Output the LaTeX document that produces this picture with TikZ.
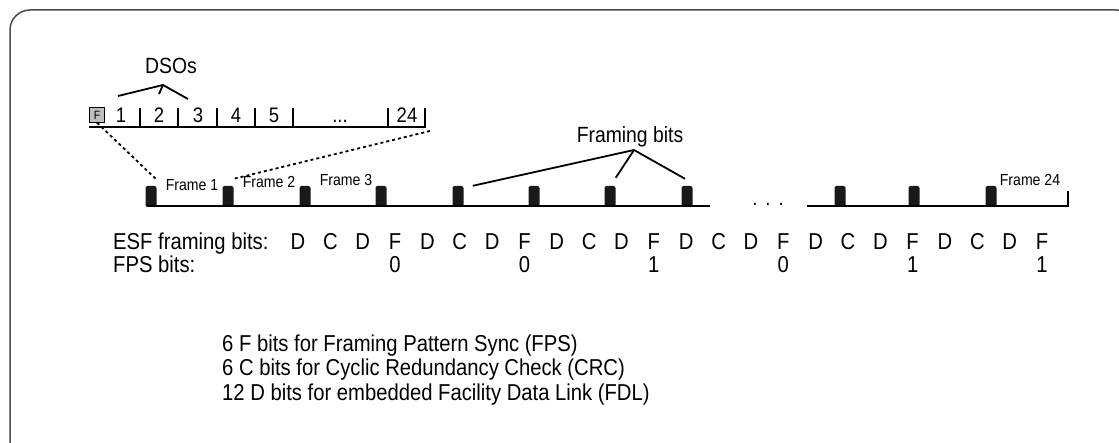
\documentclass[tikz,border=0pt]{standalone}
\usepackage{fontspec}
\setmainfont{Liberation Sans}[FakeStretch=0.88]
\usetikzlibrary{positioning}

\begin{document}
\begin{tikzpicture}[x=1pt,y=-1pt]
    \useasboundingbox (0,0) rectangle (1119,443);
    \begin{scope}
        \clip (0,0) rectangle (1119,443);
        \draw[line width=1.5pt, draw=black!70, rounded corners=20pt] (10,10) rectangle (1136,462);
    \end{scope}
    \tikzstyle{lbl} = [inner sep=0pt, anchor=base, font=\fontsize{21}{24}\selectfont]
    \tikzstyle{rowlbl} = [inner sep=0pt, anchor=base, font=\fontsize{23}{24}\selectfont]
    \tikzstyle{leglbl} = [inner sep=0pt, anchor=base west, font=\fontsize{23}{25}\selectfont]
    \tikzstyle{framelbl} = [inner sep=0pt, font=\fontsize{16}{18}\selectfont]
    \tikzstyle{fbit} = [fill=black!90, rounded corners=2pt, minimum width=11pt, minimum height=21pt, inner sep=0pt]
    \tikzstyle{conn} = [draw, line width=1.8pt]
    \tikzstyle{dots} = [draw, line width=1.8pt, dash pattern=on 3pt off 3pt]

    % DS0 row of frame 1
    \node[inner sep=0pt, font=\fontsize{22}{24}\selectfont] at (171,66) (dsos) {DSOs};
    \node[draw, fill=black!25, minimum size=15pt, inner sep=0pt, font=\fontsize{12}{14}\selectfont] at (97,115) (fbox) {F};
    \node[lbl] at (121,123) (ch1) {1};
    \node[lbl] at (159,123) (ch2) {2};
    \node[lbl] at (198,123) (ch3) {3};
    \node[lbl] at (236,123) (ch4) {4};
    \node[lbl] at (274,123) (ch5) {5};
    \node[lbl] at (340,123) (chdots) {...};
    \node[lbl] at (407,123) (ch24) {24};
    \foreach \x in {140,178,217,255,293,388,425}
        \draw[line width=1.8pt] (\x,108) -- (\x,127);
    \draw[line width=1.8pt] (89,127) -- (426,127);
    \coordinate (dsotip) at (163,85);
    \path[conn] (118,96) -- (dsotip) -- (188,99);
    \path[conn] (dsotip) -- (159,94);

    % framing bits on the line
    \foreach \x [count=\i] in {151,228,305,381,458,534,610,687,840,914,991}
        \node[fbit] at (\x,196.5) (bit\i) {};
    \path[conn] (147,206) -- (710,206);
    \path[conn] (807,206) -- (1068,206) -- (1068,191);
    \node[lbl] at (768,206) (gapdots) {.\hspace{8pt}.\hspace{8pt}.};
    \node[framelbl] at (192,185) (f1) {Frame 1};
    \node[framelbl] at (269,182) (f2) {Frame 2};
    \node[framelbl] at (346,180) (f3) {Frame 3};
    \node[framelbl] at (1030,180) (f24) {Frame 24};

    \path[dots] (fbox.south) -- ([yshift=6pt]bit1.north east);
    \path[dots] (430,131) -- ([yshift=7pt]bit2.north east);

    \node[lbl, font=\fontsize{22}{24}\selectfont] at (630,143) (fbits) {Framing bits};
    \coordinate (fbtip) at (634,150);
    \path[conn] (fbtip) -- ([xshift=9pt]bit5.north east);
    \path[conn] (fbtip) -- ([yshift=8pt]bit7.north east);
    \path[conn] (fbtip) -- ([yshift=7pt,xshift=-2pt]bit8.north);

    % ESF and FPS rows
    \node[rowlbl, anchor=base west] at (113,250) (esf) {ESF framing bits:};
    \node[rowlbl, anchor=base west] at (113,273) (fps) {FPS bits:};
    \foreach \l [count=\i] in {D,C,D,F,D,C,D,F,D,C,D,F,D,C,D,F,D,C,D,F,D,C,D,F}
        \node[rowlbl] at ({298+(\i-1)*32.35},250) (esf\i) {\l};
    \foreach \v [count=\i] in {0,0,1,0,1,1}
        \node[rowlbl] at ({298+(4*\i-1)*32.35},273) (fps\i) {\v};

    % legend
    \node[leglbl] at (222,352) (leg1) {6 F bits for Framing Pattern Sync (FPS)};
    \node[leglbl] at (222,376) (leg2) {6 C bits for Cyclic Redundancy Check (CRC)};
    \node[leglbl] at (222,400) (leg3) {12 D bits for embedded Facility Data Link (FDL)};
\end{tikzpicture}
\end{document}
